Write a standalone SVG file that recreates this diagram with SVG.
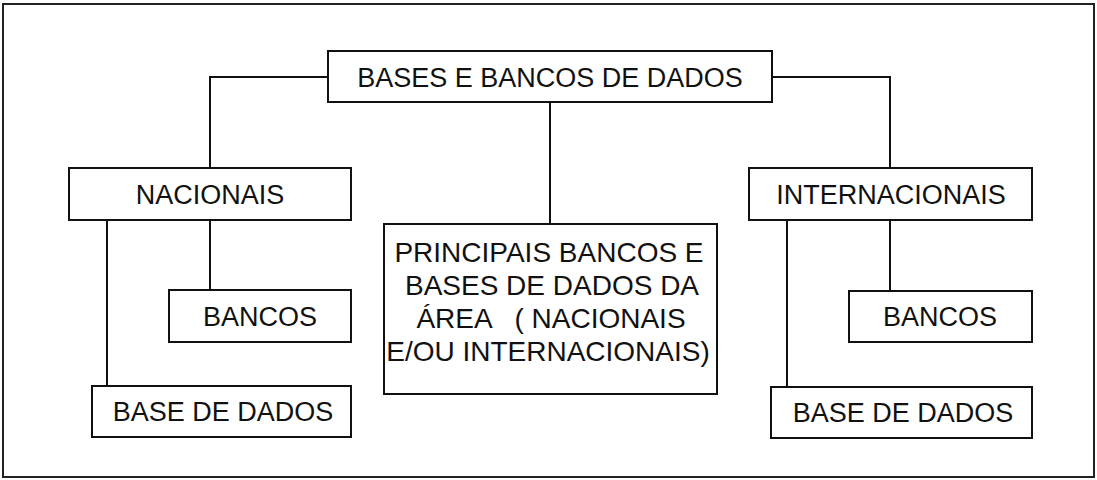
<svg xmlns="http://www.w3.org/2000/svg" width="1097" height="480" viewBox="0 0 1097 480">
<style>
.box{fill:#fff;stroke:#111;stroke-width:2}
.frame{fill:#fff;stroke:#222;stroke-width:2}
.conn{fill:none;stroke:#111;stroke-width:2}
.t{font-family:"Liberation Sans",Arial,sans-serif;font-size:27px;fill:#111;text-anchor:middle}
.m{font-size:28px;white-space:pre}
</style>
<rect class="frame" x="3" y="4" width="1091" height="473"/>
<g id="connectors">
<path class="conn" d="M328 77H210V168"/>
<path class="conn" d="M772 77H890V168"/>
<path class="conn" d="M550 102V224"/>
<path class="conn" d="M107 220V386"/>
<path class="conn" d="M210 220V290"/>
<path class="conn" d="M787 220V387"/>
<path class="conn" d="M890 220V291"/>
</g>
<g id="root">
<rect class="box" x="328" y="51" width="444" height="51"/>
<text class="t" x="550" y="87">BASES E BANCOS DE DADOS</text>
</g>
<g id="nacionais">
<rect class="box" x="69" y="168" width="282" height="52"/>
<text class="t" x="210" y="204">NACIONAIS</text>
</g>
<g id="internacionais">
<rect class="box" x="749" y="168" width="283" height="52"/>
<text class="t" x="891" y="204">INTERNACIONAIS</text>
</g>
<g id="bancos-nac">
<rect class="box" x="169" y="290" width="182" height="52"/>
<text class="t" x="260" y="326">BANCOS</text>
</g>
<g id="bancos-int">
<rect class="box" x="849" y="291" width="183" height="51"/>
<text class="t" x="940" y="326">BANCOS</text>
</g>
<g id="base-nac">
<rect class="box" x="92" y="386" width="259" height="51"/>
<text class="t" x="223" y="421">BASE DE DADOS</text>
</g>
<g id="base-int">
<rect class="box" x="771" y="387" width="261" height="51"/>
<text class="t" x="903" y="422">BASE DE DADOS</text>
</g>
<g id="principais">
<rect class="box" x="384" y="224" width="333" height="170"/>
<text class="t m" x="549" y="262">PRINCIPAIS BANCOS E</text>
<text class="t m" x="552" y="295">BASES DE DADOS DA</text>
<text class="t m" x="551" y="328">ÁREA   ( NACIONAIS</text>
<text class="t m" x="548" y="361">E/OU INTERNACIONAIS)</text>
</g>
</svg>
